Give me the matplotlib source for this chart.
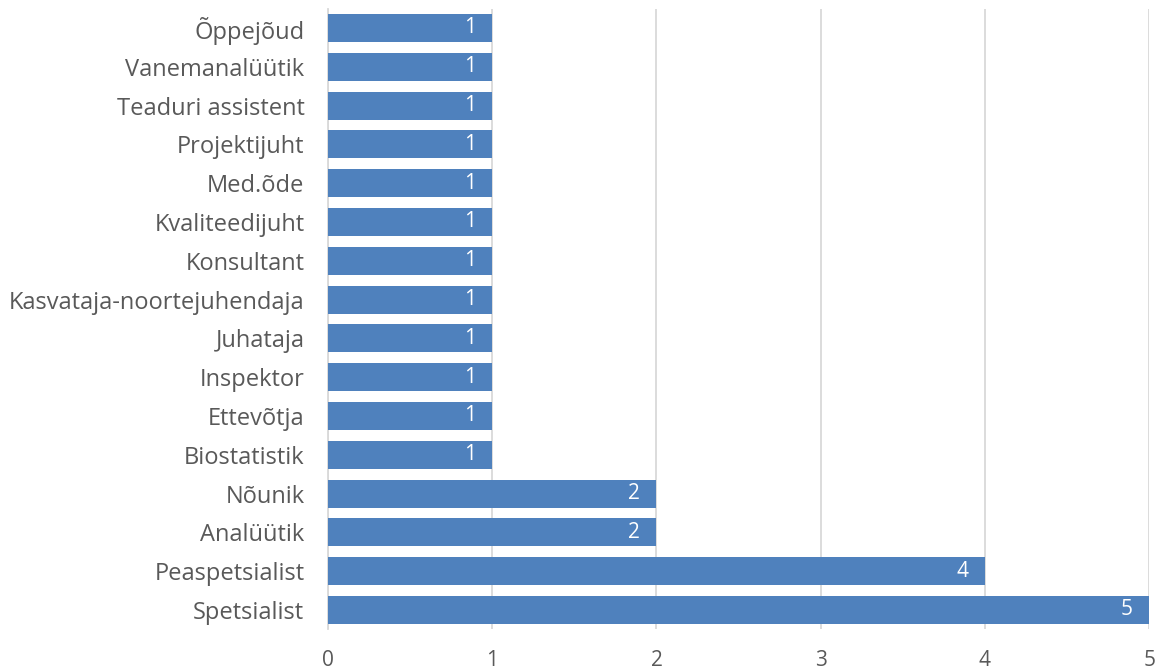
import matplotlib.pyplot as plt

# categories listed bottom to top
ametid = ['Spetsialist', 'Peaspetsialist', 'Analüütik', 'Nõunik', 'Biostatistik',
          'Ettevõtja', 'Inspektor', 'Juhataja', 'Kasvataja-noortejuhendaja',
          'Konsultant', 'Kvaliteedijuht', 'Med.õde', 'Projektijuht',
          'Teaduri assistent', 'Vanemanalüütik', 'Õppejõud']
arv = [5, 4, 2, 2, 1, 1, 1, 1, 1, 1, 1, 1, 1, 1, 1, 1]
xticks = [0, 1, 2, 3, 4, 5]

plt.rcParams['font.family'] = ['Open Sans', 'DejaVu Sans']
tekst = '#595959'

fig = plt.figure(figsize=(11.59, 6.69), dpi=100)
ax = fig.add_axes([0.283, 0.0592, 0.7085, 0.928])

pos = list(range(len(ametid)))
ax.barh(pos, arv, height=0.72, color='#4F81BD', zorder=3)

for p, v in zip(pos, arv):
    ax.text(v - 0.1, p, str(v), color='white', ha='right', va='center',
            fontsize=15, zorder=4)

ax.set_xlim(0, 5)
ax.set_ylim(-0.5, len(ametid) - 0.5)
ax.set_xticks(xticks)
ax.set_yticks(pos)
ax.set_yticklabels(ametid)
ax.xaxis.grid(True, color='#D9D9D9', linewidth=1.3, zorder=0)
ax.tick_params(axis='both', length=0, colors=tekst)
ax.tick_params(axis='x', pad=15, labelsize=15)
ax.tick_params(axis='y', pad=17, labelsize=17)
for s in ['top', 'right', 'bottom']:
    ax.spines[s].set_visible(False)
ax.spines['left'].set_color('#D9D9D9')
ax.spines['left'].set_linewidth(1.3)

fig.savefig('out.png', dpi=100)
